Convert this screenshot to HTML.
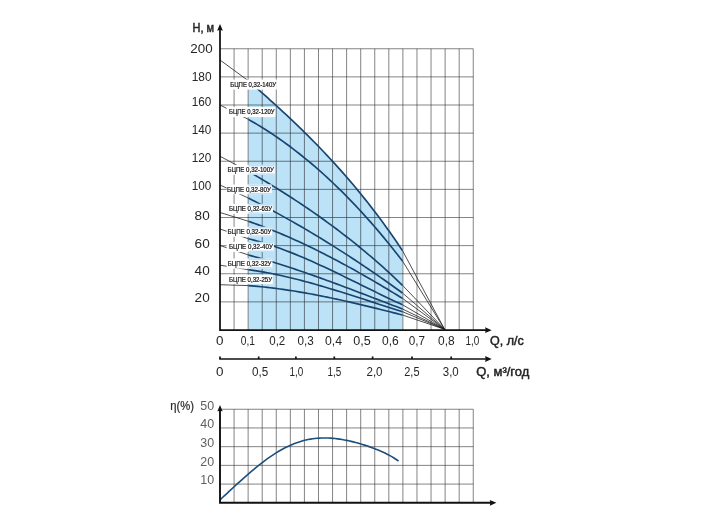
<!DOCTYPE html>
<html><head><meta charset="utf-8"><title>chart</title>
<style>
html,body{margin:0;padding:0;background:#fff;}
body{width:704px;height:528px;position:relative;overflow:hidden;font-family:"Liberation Sans",sans-serif;}
svg text{font-family:"Liberation Sans",sans-serif;}
</style></head><body>
<svg width="704" height="528" viewBox="0 0 704 528" style="position:absolute;left:0;top:0;will-change:transform">
<rect width="704" height="528" fill="#fff"/>
<path d="M234.07 48.75V330M248.14 48.75V330M262.21 48.75V330M276.28 48.75V330M290.35 48.75V330M304.42 48.75V330M318.49 48.75V330M332.56 48.75V330M346.62 48.75V330M360.69 48.75V330M374.76 48.75V330M388.83 48.75V330M402.9 48.75V330M416.97 48.75V330M431.04 48.75V330M445.11 48.75V330M459.18 48.75V330M473.25 48.75V330M220 48.75H473.25M220 76.88H473.25M220 105H473.25M220 133.12H473.25M220 161.25H473.25M220 189.38H473.25M220 217.5H473.25M220 245.62H473.25M220 273.75H473.25M220 301.88H473.25" stroke="#303030" stroke-width="0.6" fill="none"/>
<path d="M248.4 330 L248.4 80.8 L251.01 83.08 L253.62 85.37 L256.24 87.67 L258.85 89.98 L261.46 92.29 L264.07 94.62 L266.68 96.95 L269.29 99.29 L271.91 101.65 L274.52 104.01 L277.13 106.39 L279.74 108.79 L282.35 111.19 L284.97 113.62 L287.58 116.05 L290.19 118.51 L292.8 120.98 L295.41 123.47 L298.03 125.98 L300.64 128.51 L303.25 131.06 L305.86 133.63 L308.47 136.22 L311.08 138.84 L313.7 141.48 L316.31 144.14 L318.92 146.83 L321.53 149.54 L324.14 152.28 L326.76 155.05 L329.37 157.85 L331.98 160.67 L334.59 163.52 L337.2 166.41 L339.82 169.32 L342.43 172.27 L345.04 175.25 L347.65 178.26 L350.26 181.31 L352.87 184.39 L355.49 187.51 L358.1 190.67 L360.71 193.86 L363.32 197.09 L365.93 200.36 L368.55 203.67 L371.16 207.01 L373.77 210.4 L376.38 213.83 L378.99 217.31 L381.61 220.82 L384.22 224.39 L386.83 227.99 L389.44 231.64 L392.05 235.34 L394.66 239.09 L397.28 242.88 L399.89 246.72 L402.5 250.61 L402.5 330 Z" fill="#bce2f8" style="mix-blend-mode:multiply"/>
<path d="M220 60L248.4 80.8M402.5 250.61L444.6 329.3M220 105L248.4 119.38M402.5 261L444.6 329.3M220 156.25L248.4 171.32M402.5 285.31L444.6 329.3M220 185L248.4 198.09M402.5 293.02L444.6 329.3M220 212.5L248.4 221.25M402.5 298.4L444.6 329.3M220 229L248.4 238.74M402.5 304.78L444.6 329.3M220 245.5L248.4 254.98M402.5 308.99L444.6 329.3M220 265.2L248.4 269.7M402.5 311.69L444.6 329.3M220 284.7L248.4 285.6M402.5 315.01L444.6 329.3" stroke="#222" stroke-width="0.8" fill="none"/>
<path d="M248.4 80.8 L251.54 83.55 L254.69 86.31 L257.83 89.08 L260.98 91.87 L264.12 94.66 L267.27 97.47 L270.41 100.3 L273.56 103.14 L276.7 106 L279.85 108.88 L282.99 111.79 L286.14 114.71 L289.28 117.66 L292.43 120.63 L295.57 123.63 L298.72 126.65 L301.86 129.7 L305.01 132.79 L308.15 135.9 L311.3 139.05 L314.44 142.24 L317.59 145.45 L320.73 148.71 L323.88 152 L327.02 155.33 L330.17 158.71 L333.31 162.12 L336.46 165.58 L339.6 169.08 L342.75 172.63 L345.89 176.23 L349.04 179.88 L352.18 183.57 L355.33 187.32 L358.47 191.12 L361.62 194.98 L364.76 198.89 L367.91 202.85 L371.05 206.88 L374.2 210.96 L377.34 215.11 L380.49 219.31 L383.63 223.58 L386.78 227.92 L389.92 232.32 L393.07 236.79 L396.21 241.32 L399.36 245.93 L402.5 250.61M248.4 119.38 L251.54 121.17 L254.69 123 L257.83 124.88 L260.98 126.79 L264.12 128.75 L267.27 130.76 L270.41 132.81 L273.56 134.9 L276.7 137.03 L279.85 139.21 L282.99 141.44 L286.14 143.71 L289.28 146.02 L292.43 148.38 L295.57 150.79 L298.72 153.24 L301.86 155.74 L305.01 158.28 L308.15 160.87 L311.3 163.5 L314.44 166.19 L317.59 168.91 L320.73 171.69 L323.88 174.51 L327.02 177.38 L330.17 180.3 L333.31 183.27 L336.46 186.28 L339.6 189.34 L342.75 192.45 L345.89 195.61 L349.04 198.82 L352.18 202.07 L355.33 205.38 L358.47 208.73 L361.62 212.14 L364.76 215.59 L367.91 219.1 L371.05 222.65 L374.2 226.26 L377.34 229.91 L380.49 233.62 L383.63 237.37 L386.78 241.18 L389.92 245.04 L393.07 248.95 L396.21 252.92 L399.36 256.93 L402.5 261M248.4 171.32 L251.54 173.15 L254.69 175 L257.83 176.86 L260.98 178.73 L264.12 180.62 L267.27 182.52 L270.41 184.43 L273.56 186.36 L276.7 188.31 L279.85 190.27 L282.99 192.25 L286.14 194.25 L289.28 196.27 L292.43 198.3 L295.57 200.35 L298.72 202.42 L301.86 204.52 L305.01 206.63 L308.15 208.76 L311.3 210.92 L314.44 213.1 L317.59 215.3 L320.73 217.53 L323.88 219.77 L327.02 222.05 L330.17 224.34 L333.31 226.67 L336.46 229.02 L339.6 231.39 L342.75 233.8 L345.89 236.23 L349.04 238.69 L352.18 241.17 L355.33 243.69 L358.47 246.24 L361.62 248.81 L364.76 251.42 L367.91 254.06 L371.05 256.73 L374.2 259.43 L377.34 262.17 L380.49 264.94 L383.63 267.74 L386.78 270.58 L389.92 273.45 L393.07 276.36 L396.21 279.31 L399.36 282.29 L402.5 285.31M248.4 198.09 L251.54 199.68 L254.69 201.28 L257.83 202.89 L260.98 204.52 L264.12 206.17 L267.27 207.83 L270.41 209.5 L273.56 211.19 L276.7 212.9 L279.85 214.62 L282.99 216.35 L286.14 218.1 L289.28 219.86 L292.43 221.64 L295.57 223.44 L298.72 225.24 L301.86 227.07 L305.01 228.9 L308.15 230.76 L311.3 232.62 L314.44 234.51 L317.59 236.4 L320.73 238.31 L323.88 240.24 L327.02 242.18 L330.17 244.13 L333.31 246.1 L336.46 248.08 L339.6 250.08 L342.75 252.09 L345.89 254.12 L349.04 256.16 L352.18 258.21 L355.33 260.28 L358.47 262.36 L361.62 264.46 L364.76 266.57 L367.91 268.7 L371.05 270.84 L374.2 272.99 L377.34 275.16 L380.49 277.34 L383.63 279.54 L386.78 281.75 L389.92 283.98 L393.07 286.22 L396.21 288.47 L399.36 290.74 L402.5 293.02M248.4 221.25 L251.54 222.35 L254.69 223.47 L257.83 224.62 L260.98 225.79 L264.12 226.98 L267.27 228.2 L270.41 229.44 L273.56 230.7 L276.7 231.99 L279.85 233.3 L282.99 234.63 L286.14 235.98 L289.28 237.36 L292.43 238.75 L295.57 240.17 L298.72 241.6 L301.86 243.06 L305.01 244.53 L308.15 246.03 L311.3 247.54 L314.44 249.08 L317.59 250.63 L320.73 252.2 L323.88 253.79 L327.02 255.39 L330.17 257.01 L333.31 258.65 L336.46 260.31 L339.6 261.98 L342.75 263.67 L345.89 265.38 L349.04 267.1 L352.18 268.83 L355.33 270.58 L358.47 272.35 L361.62 274.13 L364.76 275.92 L367.91 277.72 L371.05 279.54 L374.2 281.38 L377.34 283.22 L380.49 285.08 L383.63 286.95 L386.78 288.83 L389.92 290.72 L393.07 292.63 L396.21 294.54 L399.36 296.46 L402.5 298.4M248.4 238.74 L251.54 239.51 L254.69 240.33 L257.83 241.19 L260.98 242.1 L264.12 243.04 L267.27 244.02 L270.41 245.04 L273.56 246.09 L276.7 247.18 L279.85 248.31 L282.99 249.46 L286.14 250.65 L289.28 251.87 L292.43 253.11 L295.57 254.38 L298.72 255.68 L301.86 257.01 L305.01 258.35 L308.15 259.72 L311.3 261.11 L314.44 262.52 L317.59 263.95 L320.73 265.39 L323.88 266.85 L327.02 268.33 L330.17 269.82 L333.31 271.32 L336.46 272.83 L339.6 274.35 L342.75 275.88 L345.89 277.41 L349.04 278.95 L352.18 280.5 L355.33 282.05 L358.47 283.6 L361.62 285.15 L364.76 286.7 L367.91 288.25 L371.05 289.79 L374.2 291.33 L377.34 292.87 L380.49 294.39 L383.63 295.91 L386.78 297.42 L389.92 298.92 L393.07 300.41 L396.21 301.88 L399.36 303.34 L402.5 304.78M248.4 254.98 L251.54 255.83 L254.69 256.7 L257.83 257.59 L260.98 258.5 L264.12 259.41 L267.27 260.35 L270.41 261.3 L273.56 262.26 L276.7 263.24 L279.85 264.23 L282.99 265.23 L286.14 266.25 L289.28 267.28 L292.43 268.32 L295.57 269.37 L298.72 270.43 L301.86 271.5 L305.01 272.59 L308.15 273.68 L311.3 274.78 L314.44 275.89 L317.59 277.01 L320.73 278.14 L323.88 279.28 L327.02 280.42 L330.17 281.57 L333.31 282.73 L336.46 283.89 L339.6 285.06 L342.75 286.23 L345.89 287.41 L349.04 288.59 L352.18 289.78 L355.33 290.97 L358.47 292.17 L361.62 293.36 L364.76 294.56 L367.91 295.76 L371.05 296.97 L374.2 298.17 L377.34 299.37 L380.49 300.58 L383.63 301.78 L386.78 302.99 L389.92 304.19 L393.07 305.4 L396.21 306.6 L399.36 307.8 L402.5 308.99M248.4 269.7 L251.54 270.13 L254.69 270.6 L257.83 271.09 L260.98 271.61 L264.12 272.16 L267.27 272.74 L270.41 273.34 L273.56 273.97 L276.7 274.62 L279.85 275.29 L282.99 275.99 L286.14 276.71 L289.28 277.45 L292.43 278.21 L295.57 279 L298.72 279.8 L301.86 280.61 L305.01 281.45 L308.15 282.3 L311.3 283.17 L314.44 284.05 L317.59 284.95 L320.73 285.86 L323.88 286.78 L327.02 287.72 L330.17 288.67 L333.31 289.62 L336.46 290.59 L339.6 291.56 L342.75 292.55 L345.89 293.54 L349.04 294.53 L352.18 295.53 L355.33 296.54 L358.47 297.55 L361.62 298.57 L364.76 299.58 L367.91 300.6 L371.05 301.62 L374.2 302.64 L377.34 303.66 L380.49 304.67 L383.63 305.69 L386.78 306.7 L389.92 307.71 L393.07 308.71 L396.21 309.71 L399.36 310.7 L402.5 311.69M248.4 285.6 L251.54 285.85 L254.69 286.11 L257.83 286.4 L260.98 286.71 L264.12 287.03 L267.27 287.38 L270.41 287.74 L273.56 288.13 L276.7 288.53 L279.85 288.95 L282.99 289.39 L286.14 289.84 L289.28 290.31 L292.43 290.8 L295.57 291.3 L298.72 291.82 L301.86 292.36 L305.01 292.91 L308.15 293.47 L311.3 294.05 L314.44 294.64 L317.59 295.24 L320.73 295.86 L323.88 296.49 L327.02 297.13 L330.17 297.78 L333.31 298.45 L336.46 299.12 L339.6 299.81 L342.75 300.5 L345.89 301.2 L349.04 301.92 L352.18 302.64 L355.33 303.37 L358.47 304.1 L361.62 304.85 L364.76 305.6 L367.91 306.36 L371.05 307.12 L374.2 307.89 L377.34 308.67 L380.49 309.45 L383.63 310.23 L386.78 311.02 L389.92 311.81 L393.07 312.61 L396.21 313.41 L399.36 314.21 L402.5 315.01" stroke="#17456f" stroke-width="1.65" fill="none" stroke-linejoin="round"/>
<rect x="226.6" y="79.55" width="50.2" height="10.05" fill="#fff"/>
<rect x="226.6" y="107.05" width="48.7" height="10.05" fill="#fff"/>
<rect x="226.6" y="164.8" width="48.1" height="10" fill="#fff"/>
<rect x="248.4" y="164.8" width="26.3" height="10" fill="#bce2f8"/>
<rect x="247.9" y="166.5" width="26.8" height="6.8" fill="#fff"/>
<rect x="226.6" y="184.55" width="45" height="9.75" fill="#fff"/>
<rect x="248.4" y="184.55" width="23.2" height="9.75" fill="#bce2f8"/>
<rect x="247.9" y="186.25" width="23.7" height="6.55" fill="#fff"/>
<rect x="226.6" y="203.9" width="46.2" height="9.9" fill="#fff"/>
<rect x="248.4" y="203.9" width="24.4" height="9.9" fill="#bce2f8"/>
<rect x="247.9" y="205.6" width="24.9" height="6.7" fill="#fff"/>
<rect x="226.6" y="226.8" width="45.5" height="10" fill="#fff"/>
<rect x="248.4" y="226.8" width="23.7" height="10" fill="#bce2f8"/>
<rect x="247.9" y="228.5" width="24.2" height="6.8" fill="#fff"/>
<rect x="226.6" y="241.9" width="47" height="10.1" fill="#fff"/>
<rect x="248.4" y="241.9" width="25.2" height="10.1" fill="#bce2f8"/>
<rect x="247.9" y="243.6" width="25.7" height="6.9" fill="#fff"/>
<rect x="226.6" y="258.5" width="45.6" height="10.1" fill="#fff"/>
<rect x="248.4" y="258.5" width="23.8" height="10.1" fill="#bce2f8"/>
<rect x="247.9" y="260.2" width="24.3" height="6.9" fill="#fff"/>
<rect x="226.6" y="274.7" width="46.2" height="9.4" fill="#fff"/>
<text x="230.25" y="86.9" textLength="45.85" lengthAdjust="spacingAndGlyphs" font-size="6.6" fill="#111" stroke="#111" stroke-width="0.2">БЦПЕ 0,32-140У</text>
<text x="229" y="114.4" textLength="45.6" lengthAdjust="spacingAndGlyphs" font-size="6.6" fill="#111" stroke="#111" stroke-width="0.2">БЦПЕ 0,32-120У</text>
<text x="227.5" y="172.1" textLength="46.5" lengthAdjust="spacingAndGlyphs" font-size="6.6" fill="#111" stroke="#111" stroke-width="0.2">БЦПЕ 0,32-100У</text>
<text x="226.9" y="191.6" textLength="44" lengthAdjust="spacingAndGlyphs" font-size="6.6" fill="#111" stroke="#111" stroke-width="0.2">БЦПЕ 0,32-80У</text>
<text x="229" y="211.1" textLength="43.1" lengthAdjust="spacingAndGlyphs" font-size="6.6" fill="#111" stroke="#111" stroke-width="0.2">БЦПЕ 0,32-63У</text>
<text x="227.5" y="234.1" textLength="43.9" lengthAdjust="spacingAndGlyphs" font-size="6.6" fill="#111" stroke="#111" stroke-width="0.2">БЦПЕ 0,32-50У</text>
<text x="229" y="249.3" textLength="43.9" lengthAdjust="spacingAndGlyphs" font-size="6.6" fill="#111" stroke="#111" stroke-width="0.2">БЦПЕ 0,32-40У</text>
<text x="227.75" y="265.9" textLength="43.75" lengthAdjust="spacingAndGlyphs" font-size="6.6" fill="#111" stroke="#111" stroke-width="0.2">БЦПЕ 0,32-32У</text>
<text x="229" y="281.8" textLength="43.1" lengthAdjust="spacingAndGlyphs" font-size="6.6" fill="#111" stroke="#111" stroke-width="0.2">БЦПЕ 0,32-25У</text>
<path d="M220 27V330H487" stroke="#111" stroke-width="1.75" fill="none"/>
<path d="M220 24l2.9 6.7l-2.9 -0.9l-2.9 0.9z" fill="#111"/>
<path d="M491.7 330.2l-6.6 -2.9l0.6 2.9l-0.6 2.9z" fill="#111"/>
<text x="190.25" y="53.2" textLength="22.35" lengthAdjust="spacingAndGlyphs" font-size="12.2" fill="#262626">200</text>
<text x="191.75" y="80.7" textLength="19.85" lengthAdjust="spacingAndGlyphs" font-size="12.2" fill="#262626">180</text>
<text x="191.8" y="106.4" textLength="19.6" lengthAdjust="spacingAndGlyphs" font-size="12.2" fill="#262626">160</text>
<text x="191.8" y="134" textLength="19.6" lengthAdjust="spacingAndGlyphs" font-size="12.2" fill="#262626">140</text>
<text x="191.8" y="161.9" textLength="19.6" lengthAdjust="spacingAndGlyphs" font-size="12.2" fill="#262626">120</text>
<text x="191.8" y="189.5" textLength="19.6" lengthAdjust="spacingAndGlyphs" font-size="12.2" fill="#262626">100</text>
<text x="194.6" y="220.4" textLength="15.1" lengthAdjust="spacingAndGlyphs" font-size="12.2" fill="#262626">80</text>
<text x="194.6" y="247.6" textLength="15.1" lengthAdjust="spacingAndGlyphs" font-size="12.2" fill="#262626">60</text>
<text x="194.6" y="275" textLength="15.1" lengthAdjust="spacingAndGlyphs" font-size="12.2" fill="#262626">40</text>
<text x="194.6" y="302.2" textLength="15.1" lengthAdjust="spacingAndGlyphs" font-size="12.2" fill="#262626">20</text>
<text x="192.5" y="31.6" textLength="21.6" lengthAdjust="spacingAndGlyphs" font-size="12.2" fill="#222" stroke="#222" stroke-width="0.45">Н, м</text>
<text x="216.1" y="344.75" textLength="7.5" lengthAdjust="spacingAndGlyphs" font-size="12" fill="#262626">0</text>
<text x="240.75" y="344.75" textLength="14.15" lengthAdjust="spacingAndGlyphs" font-size="12" fill="#262626">0,1</text>
<text x="269.25" y="344.75" textLength="16" lengthAdjust="spacingAndGlyphs" font-size="12" fill="#262626">0,2</text>
<text x="297.5" y="344.75" textLength="16.25" lengthAdjust="spacingAndGlyphs" font-size="12" fill="#262626">0,3</text>
<text x="325" y="344.75" textLength="17" lengthAdjust="spacingAndGlyphs" font-size="12" fill="#262626">0,4</text>
<text x="353.25" y="344.75" textLength="17.5" lengthAdjust="spacingAndGlyphs" font-size="12" fill="#262626">0,5</text>
<text x="382" y="344.75" textLength="16.75" lengthAdjust="spacingAndGlyphs" font-size="12" fill="#262626">0,6</text>
<text x="408.75" y="344.75" textLength="16.25" lengthAdjust="spacingAndGlyphs" font-size="12" fill="#262626">0,7</text>
<text x="438" y="344.75" textLength="16.6" lengthAdjust="spacingAndGlyphs" font-size="12" fill="#262626">0,8</text>
<text x="465.4" y="344.75" textLength="13.8" lengthAdjust="spacingAndGlyphs" font-size="12" fill="#262626">1,0</text>
<text x="490" y="344.7" textLength="33.75" lengthAdjust="spacingAndGlyphs" font-size="12" fill="#222" stroke="#222" stroke-width="0.45">Q, л/с</text>
<path d="M219.2 359H487" stroke="#111" stroke-width="1.5" fill="none"/>
<path d="M491.7 359l-6.6 -2.9l0.6 2.9l-0.6 2.9z" fill="#111"/>
<path d="M220 359v-2.6M258.7 359v-2.6M295.9 359v-2.6M334.3 359v-2.6M372.6 359v-2.6M412 359v-2.6M451.2 359v-2.6" stroke="#111" stroke-width="1.7" fill="none"/>
<text x="216.1" y="376" textLength="7.5" lengthAdjust="spacingAndGlyphs" font-size="12" fill="#262626">0</text>
<text x="252" y="376" textLength="16.25" lengthAdjust="spacingAndGlyphs" font-size="12" fill="#262626">0,5</text>
<text x="289.5" y="376" textLength="13.75" lengthAdjust="spacingAndGlyphs" font-size="12" fill="#262626">1,0</text>
<text x="327.5" y="376" textLength="13.75" lengthAdjust="spacingAndGlyphs" font-size="12" fill="#262626">1,5</text>
<text x="366.5" y="376" textLength="16" lengthAdjust="spacingAndGlyphs" font-size="12" fill="#262626">2,0</text>
<text x="404.25" y="376" textLength="15.25" lengthAdjust="spacingAndGlyphs" font-size="12" fill="#262626">2,5</text>
<text x="442.8" y="376" textLength="15.95" lengthAdjust="spacingAndGlyphs" font-size="12" fill="#262626">3,0</text>
<text x="476.25" y="375.6" textLength="53" lengthAdjust="spacingAndGlyphs" font-size="12" fill="#222" stroke="#222" stroke-width="0.45">Q, м³/год</text>
<path d="M234.07 409.25V502.8M248.14 409.25V502.8M262.21 409.25V502.8M276.28 409.25V502.8M290.35 409.25V502.8M304.42 409.25V502.8M318.49 409.25V502.8M332.56 409.25V502.8M346.62 409.25V502.8M360.69 409.25V502.8M374.76 409.25V502.8M388.83 409.25V502.8M402.9 409.25V502.8M416.97 409.25V502.8M431.04 409.25V502.8M445.11 409.25V502.8M459.18 409.25V502.8M473.25 409.25V502.8M220 409.25H473.25M220 427.96H473.25M220 446.67H473.25M220 465.38H473.25M220 484.09H473.25" stroke="#303030" stroke-width="0.6" fill="none"/>
<path d="M220 499.9 L222.26 497.78 L224.52 495.67 L226.78 493.56 L229.04 491.46 L231.3 489.36 L233.56 487.27 L235.82 485.2 L238.08 483.14 L240.34 481.09 L242.59 479.06 L244.85 477.05 L247.11 475.07 L249.37 473.11 L251.63 471.17 L253.89 469.27 L256.15 467.41 L258.41 465.58 L260.67 463.79 L262.93 462.05 L265.19 460.35 L267.45 458.7 L269.71 457.1 L271.97 455.56 L274.23 454.07 L276.49 452.64 L278.75 451.28 L281.01 449.97 L283.27 448.73 L285.53 447.55 L287.78 446.44 L290.04 445.4 L292.3 444.42 L294.56 443.52 L296.82 442.68 L299.08 441.91 L301.34 441.22 L303.6 440.59 L305.86 440.03 L308.12 439.54 L310.38 439.12 L312.64 438.77 L314.9 438.48 L317.16 438.26 L319.42 438.09 L321.68 437.99 L323.94 437.95 L326.2 437.97 L328.46 438.04 L330.72 438.17 L332.97 438.34 L335.23 438.57 L337.49 438.84 L339.75 439.16 L342.01 439.52 L344.27 439.92 L346.53 440.36 L348.79 440.84 L351.05 441.36 L353.31 441.9 L355.57 442.49 L357.83 443.1 L360.09 443.74 L362.35 444.42 L364.61 445.12 L366.87 445.86 L369.13 446.63 L371.39 447.43 L373.65 448.27 L375.91 449.14 L378.16 450.06 L380.42 451.02 L382.68 452.03 L384.94 453.09 L387.2 454.22 L389.46 455.41 L391.72 456.67 L393.98 458.02 L396.24 459.47 L398.5 461.02" stroke="#1d4f7c" stroke-width="1.6" fill="none" stroke-linejoin="round"/>
<path d="M220 409V502.8H492" stroke="#111" stroke-width="1.9" fill="none"/>
<path d="M220 405l2.7 6.4l-2.7 -0.9l-2.7 0.9z" fill="#111"/>
<path d="M496.4 502.8l-6.6 -2.9l0.6 2.9l-0.6 2.9z" fill="#111"/>
<text x="200.25" y="409.7" textLength="13.85" lengthAdjust="spacingAndGlyphs" font-size="12.2" fill="#606060">50</text>
<text x="200.25" y="428.1" textLength="13.85" lengthAdjust="spacingAndGlyphs" font-size="12.2" fill="#606060">40</text>
<text x="200.25" y="446.8" textLength="13.85" lengthAdjust="spacingAndGlyphs" font-size="12.2" fill="#606060">30</text>
<text x="200.25" y="465.5" textLength="13.85" lengthAdjust="spacingAndGlyphs" font-size="12.2" fill="#606060">20</text>
<text x="200.25" y="484" textLength="13.85" lengthAdjust="spacingAndGlyphs" font-size="12.2" fill="#606060">10</text>
<text x="170.25" y="409.6" textLength="23.75" lengthAdjust="spacingAndGlyphs" font-size="12" fill="#2a2a2a" stroke="#2a2a2a" stroke-width="0.2">η(%)</text>
</svg>
</body></html>
